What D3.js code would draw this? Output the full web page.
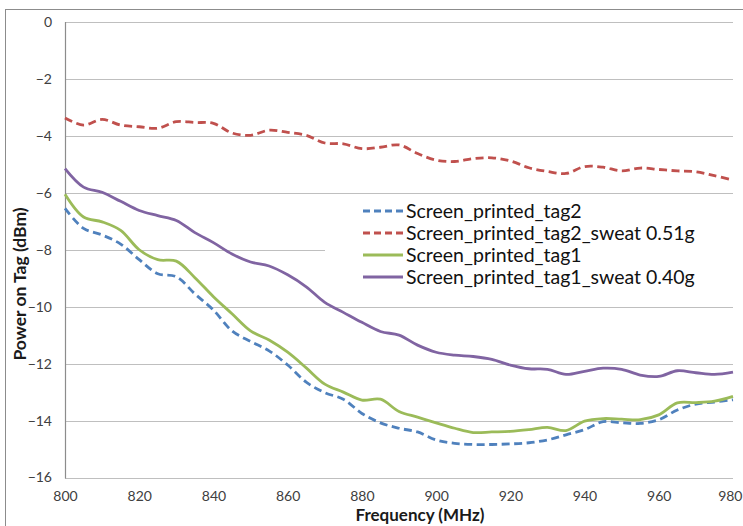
<!DOCTYPE html>
<html>
<head>
<meta charset="utf-8">
<script src="https://cdn.jsdelivr.net/npm/d3@7"></script>
<style>
  html, body { margin: 0; padding: 0; background: #fff; }
  svg { display: block; }
  text { font-family: Lato, "Open Sans", "Liberation Sans", sans-serif; }
</style>
</head>
<body>
<svg id="chart" width="743" height="526"></svg>
<script>
const freqs = [800,805,810,815,820,825,830,835,840,845,850,855,860,865,870,875,880,885,890,895,900,905,910,915,920,925,930,935,940,945,950,955,960,965,970,975,980];

const tag2 = [-6.55,-7.25,-7.48,-7.80,-8.35,-8.84,-8.95,-9.55,-10.12,-10.85,-11.22,-11.55,-12.05,-12.65,-13.02,-13.25,-13.75,-14.08,-14.27,-14.40,-14.68,-14.80,-14.84,-14.84,-14.82,-14.78,-14.68,-14.50,-14.32,-14.04,-14.08,-14.10,-13.97,-13.63,-13.42,-13.35,-13.27];

const tag2Sweat = [-3.37,-3.62,-3.42,-3.62,-3.68,-3.73,-3.50,-3.53,-3.56,-3.90,-3.98,-3.80,-3.88,-3.98,-4.25,-4.28,-4.45,-4.40,-4.32,-4.62,-4.85,-4.90,-4.80,-4.77,-4.88,-5.12,-5.25,-5.32,-5.08,-5.10,-5.23,-5.13,-5.18,-5.23,-5.26,-5.40,-5.55];

const tag1 = [-6.05,-6.85,-7.02,-7.32,-8.00,-8.35,-8.40,-8.98,-9.65,-10.25,-10.85,-11.17,-11.60,-12.15,-12.72,-13.00,-13.28,-13.25,-13.68,-13.88,-14.08,-14.27,-14.42,-14.40,-14.38,-14.32,-14.24,-14.35,-14.02,-13.93,-13.95,-13.97,-13.80,-13.38,-13.37,-13.32,-13.15];

const tag1Sweat = [-5.15,-5.80,-5.98,-6.30,-6.62,-6.80,-6.97,-7.40,-7.75,-8.15,-8.43,-8.57,-8.88,-9.30,-9.85,-10.20,-10.55,-10.87,-11.00,-11.35,-11.60,-11.70,-11.75,-11.85,-12.05,-12.18,-12.20,-12.38,-12.27,-12.16,-12.20,-12.40,-12.45,-12.25,-12.32,-12.38,-12.30];

const seriesNames = ["Screen_printed_tag2", "Screen_printed_tag2_sweat 0.51g", "Screen_printed_tag1", "Screen_printed_tag1_sweat 0.40g"];
const seriesValues = [tag2, tag2Sweat, tag1, tag1Sweat];
const seriesColors = ["#4F81BD", "#C0504D", "#9BBB59", "#8064A2"];
const seriesDashed = [true, true, false, false];

const xTicks = [800,820,840,860,880,900,920,940,960,980];
const yTicks = [0,-2,-4,-6,-8,-10,-12,-14,-16];

const svg = d3.select("#chart");
const W = 743;
const plot = { left: 65, right: 733, top: 22, bottom: 477.5 };

// outer frame
svg.append("rect").attr("x", 5.5).attr("y", 9.5).attr("width", 800).attr("height", 600)
  .attr("fill", "#fff").attr("stroke", "#8c8c8c").attr("stroke-width", 1);

const x = d3.scaleLinear().domain([800, 980]).range([plot.left, plot.right]);
const y = d3.scaleLinear().domain([-16, 0]).range([plot.bottom, plot.top]);

// gridlines
svg.append("g").selectAll("line").data(yTicks).join("line")
  .attr("x1", plot.left).attr("x2", plot.right)
  .attr("y1", d => Math.round(y(d)) + 0.5).attr("y2", d => Math.round(y(d)) + 0.5)
  .attr("stroke", "#bfbfbf").attr("stroke-width", 1.2);

// y axis line
svg.append("line").attr("x1", plot.left + 0.5).attr("x2", plot.left + 0.5)
  .attr("y1", plot.top).attr("y2", Math.round(plot.bottom) + 0.5)
  .attr("stroke", "#8c8c8c").attr("stroke-width", 1.2);

// y axis labels
const yAxis = d3.axisLeft(y).tickValues(yTicks).tickSize(0).tickPadding(13).tickFormat(d3.format("d"));
const gy = svg.append("g").attr("transform", `translate(${plot.left},0)`).call(yAxis);
gy.select(".domain").remove();
gy.selectAll("text").attr("font-size", 14).attr("fill", "#404040")
  .style("font-family", "Lato, 'Open Sans', sans-serif");

// x axis labels
const xAxis = d3.axisBottom(x).tickValues(xTicks).tickSize(0).tickPadding(14).tickFormat(d3.format("d"));
const gx = svg.append("g").attr("transform", `translate(0,${plot.bottom})`).call(xAxis);
gx.select(".domain").remove();
gx.selectAll("text").attr("font-size", 14).attr("fill", "#404040")
  .style("font-family", "Lato, 'Open Sans', sans-serif");
// keep the last label inside the window
gx.selectAll(".tick").filter(d => d === 980).select("text")
  .attr("text-anchor", "end").attr("x", (W - 1) - x(980));

// axis titles
svg.append("text").attr("x", 420).attr("y", 521).attr("text-anchor", "middle")
  .attr("font-size", 17).attr("font-weight", "bold").attr("fill", "#1a1a1a")
  .text("Frequency (MHz)");
svg.append("text").attr("transform", "translate(26,284) rotate(-90)").attr("text-anchor", "middle")
  .attr("font-size", 17.5).attr("font-weight", "bold").attr("fill", "#1a1a1a")
  .text("Power on Tag (dBm)");

// legend background (covers gridline)
svg.append("rect").attr("x", 325).attr("y", 196).attr("width", plot.right - 325).attr("height", 104)
  .attr("fill", "#fff");

// lines
const line = d3.line().x((d, i) => x(freqs[i])).y(d => y(d)).curve(d3.curveCatmullRom.alpha(0.5));
seriesValues.forEach((vals, k) => {
  svg.append("path").datum(vals).attr("d", line)
    .attr("fill", "none").attr("stroke", seriesColors[k]).attr("stroke-width", 2.8)
    .attr("stroke-dasharray", seriesDashed[k] ? "8,4.5" : null)
    .attr("stroke-linejoin", "round");
});

// legend
const legY = [211, 233, 255, 277];
seriesNames.forEach((name, k) => {
  svg.append("line").attr("x1", 363).attr("x2", 403).attr("y1", legY[k]).attr("y2", legY[k])
    .attr("stroke", seriesColors[k]).attr("stroke-width", 2.8)
    .attr("stroke-dasharray", seriesDashed[k] ? "7,4" : null);
  svg.append("text").attr("x", 406).attr("y", legY[k]).attr("dy", "0.35em")
    .attr("font-size", 19.5).attr("fill", "#111").text(name);
});
</script>
</body>
</html>
